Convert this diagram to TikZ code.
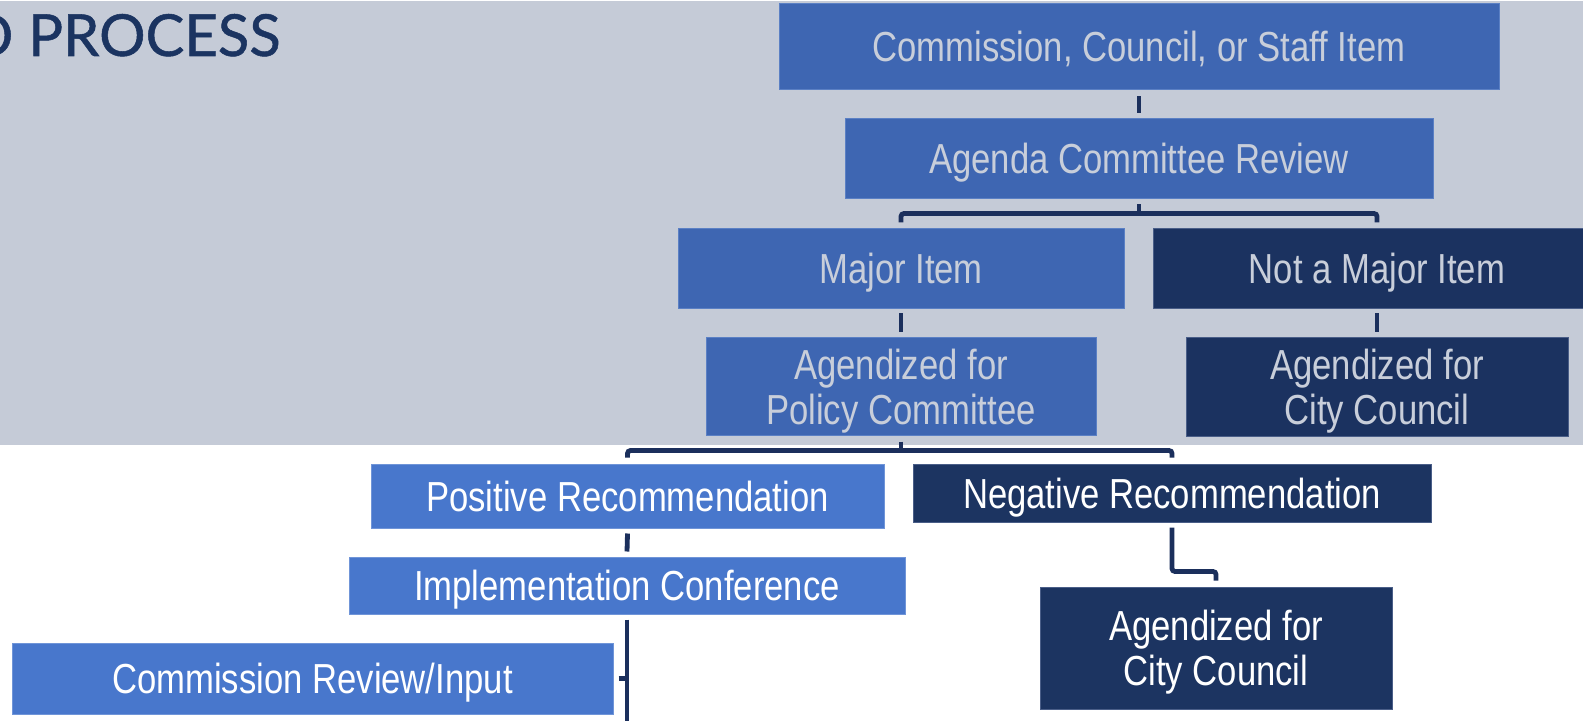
\documentclass[tikz,border=0pt]{standalone}
\usepackage{fontspec}
\usetikzlibrary{calc}
\newfontfamily\narrowfont[FakeStretch=0.825]{Liberation Sans}
\newfontfamily\titlefont[FakeBold=0.9]{Lato}
\definecolor{bggray}{HTML}{C5CBD7}
\definecolor{topblue}{HTML}{3E66B2}
\definecolor{topblueedge}{HTML}{5B80C4}
\definecolor{topnavy}{HTML}{1B3260}
\definecolor{toptext}{HTML}{C8CEDA}
\definecolor{botblue}{HTML}{4877CC}
\definecolor{botblueedge}{HTML}{7095D8}
\definecolor{botnavy}{HTML}{1C3461}
\definecolor{navyedge}{HTML}{4A5E88}
\definecolor{titlecol}{HTML}{1B3461}
\definecolor{linecol}{HTML}{1B2F5C}
\tikzset{
  box/.style={rectangle, inner sep=0pt, line width=0.5pt, align=center,
    font=\narrowfont\fontsize{21}{22.5}\selectfont},
  tb/.style={box, fill=topblue, draw=topblueedge, text=toptext},
  tn/.style={box, fill=topnavy, draw=navyedge, text=toptext},
  bb/.style={box, fill=botblue, draw=botblueedge, text=white},
  bn/.style={box, fill=botnavy, draw=navyedge, text=white},
  oneline/.style={text height=15pt, text depth=0pt},
  twoline/.style={text height=37.5pt, text depth=0pt},
  conn/.style={draw=linecol, line width=2.4pt},
  bracket/.style={conn, rounded corners=1.5pt}
}
\begin{document}
\begin{tikzpicture}[x=0.5pt,y=-0.5pt]
\useasboundingbox (0,0) rectangle (1583,721);
\clip (0,0) rectangle (1583,721);
\fill[white] (0,0) rectangle (1583,721);
\fill[bggray] (0,1) rectangle (1583,445);

\node[anchor=base east, inner sep=0pt, text=titlecol,
  font=\titlefont\fontsize{29}{29}\selectfont] (title) at (281,56) {D PROCESS};

% top region
\node[tb, oneline, minimum width=360pt, minimum height=43pt] (cm) at (1139,47) {Commission, Council, or Staff Item};
\node[tb, oneline, minimum width=294pt, minimum height=40pt] (ag) at (1139,159) {Agenda Committee Review};
\node[tb, oneline, minimum width=223pt, minimum height=40pt] (mj) at (901,269) {Major Item};
\node[tn, oneline, minimum width=224pt, minimum height=40pt] (nm) at (1377,269) {Not a Major Item};
\node[tb, twoline, minimum width=195pt, minimum height=48.5pt] (pc) at (901,386.5) {Agendized for\\Policy Committee};
\node[tn, twoline, minimum width=191pt, minimum height=49pt] (cc1) at (1377,387) {Agendized for\\City Council};

% lower region
\node[bb, oneline, minimum width=256.5pt, minimum height=32pt] (pos) at (627.5,496) {Positive Recommendation};
\node[bn, oneline, minimum width=259pt, minimum height=29pt] (neg) at (1172,493) {Negative Recommendation};
\node[bb, oneline, minimum width=278pt, minimum height=28.5pt] (imp) at (627,585.5) {Implementation Conference};
\node[bn, twoline, minimum width=176pt, minimum height=61pt] (cc2) at (1216,648) {Agendized for\\City Council};
\node[bb, oneline, minimum width=300.5pt, minimum height=35.5pt] (cr) at (312.5,678.5) {Commission Review/Input};

% connectors
\draw[conn] ([yshift=-3pt]cm.south) -- ([yshift=2.5pt]ag.north);
\coordinate (agbar) at ($(ag.south)+(0,14)$);
\draw[conn] ([yshift=-2.5pt]ag.south) -- (agbar);
\draw[bracket] ([yshift=3pt]mj.north) |- (agbar) -| ([yshift=3pt]nm.north);
\draw[conn] ([yshift=-2pt]mj.south) -- ([yshift=2.5pt]pc.north);
\draw[conn] ([yshift=-2pt]nm.south) -- ([yshift=2.5pt]cc1.north);
\coordinate (pcbar) at ($(pc.south)+(0,15)$);
\draw[conn] ([yshift=-3pt]pc.south) -- (pcbar);
\draw[bracket] ([yshift=3pt]pos.north) |- (pcbar) -| ([yshift=3pt]neg.north);
\draw[conn] ([yshift=-2.5pt]pos.south) -- ([yshift=2.5pt]imp.north);
\draw[bracket] ([yshift=-2.5pt]neg.south) |- ($(cc2.north)+(0,-15)$) -- ([yshift=3pt]cc2.north);
\coordinate (bot) at ($(imp.south)+(0,120)$);
\draw[conn] ([yshift=-2.5pt]imp.south) -- (bot);
\draw[conn] ([xshift=2.5pt]cr.east) -- (cr.east -| imp.south);
\end{tikzpicture}
\end{document}
